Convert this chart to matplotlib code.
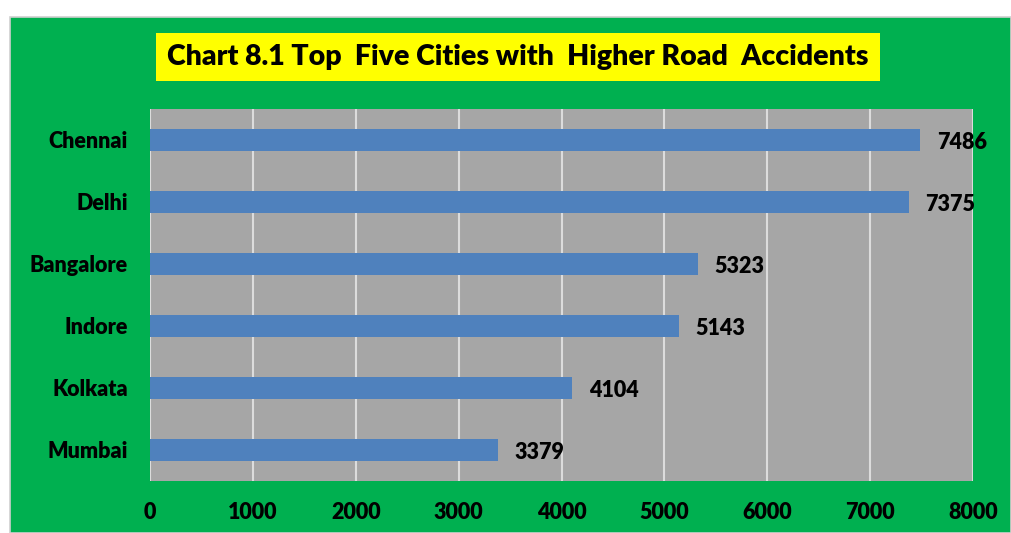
import matplotlib
matplotlib.use("Agg")
import matplotlib.pyplot as plt
from matplotlib.patches import Rectangle

plt.rcParams['font.family'] = ['Lato', 'DejaVu Sans']
plt.rcParams['font.weight'] = 'heavy'

cities = ["Chennai", "Delhi", "Bangalore", "Indore", "Kolkata", "Mumbai"]
accidents = [7486, 7375, 5323, 5143, 4104, 3379]
x_ticks = [0, 1000, 2000, 3000, 4000, 5000, 6000, 7000, 8000]
title = "Chart 8.1 Top  Five Cities with  Higher Road  Accidents"

W, H = 1011, 533
fig = plt.figure(figsize=(W / 100.0, H / 100.0), dpi=100)
fig.patch.set_facecolor("white")

# green chart area with a light border
fig.patches.append(Rectangle((10.0 / W, 0), 1 - 10.0 / W, (H - 17.0) / H,
                             transform=fig.transFigure, facecolor="#00B050",
                             edgecolor="#D0D0D0", linewidth=1.2, zorder=-1))

ax = fig.add_axes([150.0 / W, (H - 481.0) / H, 823.0 / W, 372.0 / H])
ax.set_facecolor("#A6A6A6")

pos = list(range(len(cities)))[::-1]
ax.barh(pos, accidents, height=0.36, color="#4F81BD", zorder=3)
for p, v in zip(pos, accidents):
    ax.annotate(str(v), xy=(v, p), xytext=(12, -2), textcoords="offset points",
                ha="left", va="center", fontsize=15.5, fontweight="heavy",
                color="black")

ax.set_xlim(0, 8000)
ax.set_ylim(-0.5, len(cities) - 0.5)
ax.set_xticks(x_ticks)
ax.set_xticklabels([str(t) for t in x_ticks], fontsize=15.5, fontweight="heavy")
ax.set_yticks(pos)
ax.set_yticklabels(cities, fontsize=15.5, fontweight="heavy")
ax.tick_params(axis="both", length=0)
ax.tick_params(axis="y", pad=16)
ax.tick_params(axis="x", pad=15)
ax.grid(axis="x", color="#DCDCDC", linewidth=1.5, zorder=1)
ax.set_axisbelow(True)
for s in ax.spines.values():
    s.set_visible(False)

fig.text(518.0 / W, 1 - 57.0 / H, title, ha="center", va="center",
         fontsize=20.5, fontweight="heavy", color="black",
         bbox=dict(boxstyle="square,pad=0.4", facecolor="#FFFF00",
                   edgecolor="none"))

fig.savefig("out.png", dpi=100)
